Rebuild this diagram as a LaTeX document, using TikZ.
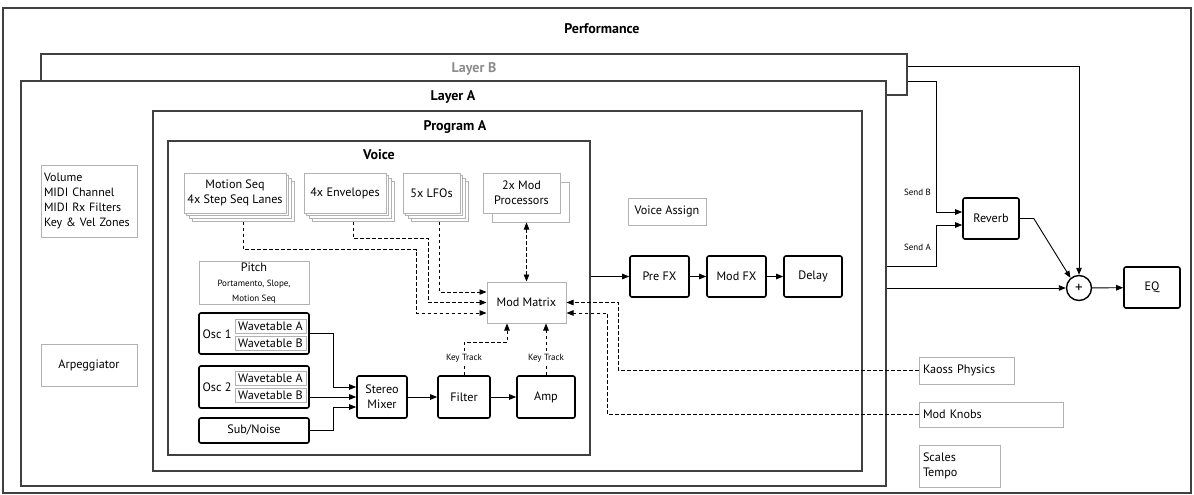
\documentclass[tikz,border=0pt]{standalone}
\usepackage{fontspec}
\setmainfont{PT Sans}
\usetikzlibrary{arrows.meta}
\tikzstyle{arrow} = [->,>={Triangle[length=7pt,width=5.5pt]}, line width=0.9pt]
\tikzstyle{dArrow} = [arrow, dash pattern=on 3.5pt off 2.5pt]
\tikzstyle{dBoth} = [dArrow, <->]
\tikzstyle{frameBox} = [draw=black!75, line width=1.1pt, fill=white, inner sep=0pt]
\tikzstyle{gLine} = [draw=black!30, line width=1pt, fill=white]
\tikzstyle{gBox} = [gLine, inner sep=2pt, align=center]
\tikzstyle{kBox} = [draw=black, line width=1.6pt, rounded corners=2pt, fill=white, inner sep=2pt, align=center]
\tikzstyle{title} = [font=\bfseries\fontsize{14}{16}\selectfont]
\tikzstyle{smallText} = [font=\fontsize{9}{10.5}\selectfont, inner sep=1pt]

\begin{document}
\begin{tikzpicture}[x=1pt, y=-1pt, font=\fontsize{12.2}{15}\selectfont]
        \useasboundingbox (0,0) rectangle (1194,495);

        \node[frameBox, minimum width=1188pt, minimum height=485pt] (perf) at (597,250.5) {};
        \node[title] (perfT) at (602,29) {Performance};
        \node[frameBox, minimum width=866pt, minimum height=41pt] (layerB) at (474,74.5) {};
        \node[title, text=black!45] (layerBT) at (474,69) {Layer B};
        \node[frameBox, minimum width=865pt, minimum height=405pt] (layerA) at (453.5,283.5) {};
        \node[title] (layerAT) at (453,97) {Layer A};
        \node[frameBox, minimum width=709pt, minimum height=360pt] (progA) at (507.5,291) {};
        \node[title] (progAT) at (455,127) {Program A};
        \node[frameBox, minimum width=422pt, minimum height=314pt] (voice) at (379,298) {};
        \node[title] (voiceT) at (379,155) {Voice};

        \node[gBox, minimum width=96pt, minimum height=72pt, inner xsep=3pt, text width=90pt, align=left, font=\fontsize{12}{15.3}\selectfont] (partSet) at (89,201) {Volume\\MIDI Channel\\MIDI Rx Filters\\Key \& Vel Zones};
        \node[gBox, minimum width=96pt, minimum height=42pt] (arp) at (89,365) {Arpeggiator};

        \foreach \d in {8.1,5.4,2.7} {
            \draw[gLine] (184+\d,173+\d) rectangle ++(102,40);
            \draw[gLine] (304+\d,173+\d) rectangle ++(82,40);
            \draw[gLine] (403+\d,173+\d) rectangle ++(57,40);
        }
        \draw[gLine] (492,182) rectangle ++(77,40);
        \node[gBox, minimum width=102pt, minimum height=40pt] (motion) at (235,193) {Motion Seq\\4x Step Seq Lanes};
        \node[gBox, minimum width=82pt, minimum height=40pt] (env) at (345,193) {4x Envelopes};
        \node[gBox, minimum width=57pt, minimum height=40pt] (lfo) at (431.5,193) {5x LFOs};
        \node[gBox, minimum width=77pt, minimum height=40pt] (modProc) at (521.5,193) {2x Mod\\Processors};

        \node[gBox, minimum width=110pt, minimum height=42pt, inner sep=1pt] (pitch) at (254,283) {Pitch\\{\fontsize{9}{10.5}\selectfont Portamento, Slope,}\\{\fontsize{9}{10.5}\selectfont Motion Seq}};
        \node[gBox, minimum width=79pt, minimum height=41pt] (mm) at (526.5,302.5) {Mod Matrix};
        \node[gBox, minimum width=78pt, minimum height=27pt] (vAssign) at (667,211.5) {Voice Assign};

        \node[kBox, minimum width=110pt, minimum height=41pt] (osc1) at (254,333.5) {};
        \node (osc1T) at (217,334) {Osc 1};
        \node[gBox, inner sep=0pt, minimum width=71pt, minimum height=14pt] (wt1a) at (270.5,326) {Wavetable A};
        \node[gBox, inner sep=0pt, minimum width=71pt, minimum height=14pt] (wt1b) at (270.5,343) {Wavetable B};
        \node[kBox, minimum width=110pt, minimum height=42pt] (osc2) at (254,387) {};
        \node (osc2T) at (217,387) {Osc 2};
        \node[gBox, inner sep=0pt, minimum width=71pt, minimum height=14pt] (wt2a) at (270.5,378.5) {Wavetable A};
        \node[gBox, inner sep=0pt, minimum width=71pt, minimum height=14pt] (wt2b) at (270.5,395) {Wavetable B};
        \node[kBox, minimum width=110pt, minimum height=25pt] (sub) at (254,430.5) {Sub/Noise};
        \node[kBox, minimum width=50pt, minimum height=42pt] (mix) at (382,397) {Stereo\\Mixer};
        \node[kBox, minimum width=52pt, minimum height=42pt] (filt) at (464,397) {Filter};
        \node[kBox, minimum width=58pt, minimum height=42pt] (amp) at (546,397) {Amp};

        \node[kBox, minimum width=59pt, minimum height=41pt] (preFx) at (659.5,276.5) {Pre FX};
        \node[kBox, minimum width=59pt, minimum height=41pt] (modFx) at (736.5,276.5) {Mod FX};
        \node[kBox, minimum width=58pt, minimum height=41pt] (delay) at (813,276.5) {Delay};
        \node[kBox, minimum width=56pt, minimum height=41pt] (reverb) at (991,218.5) {Reverb};
        \node[circle, draw, line width=1.4pt, fill=white, minimum size=25pt, inner sep=0pt, font=\fontsize{15}{15}\selectfont] (sum) at (1079,288) {+};
        \node[kBox, minimum width=56pt, minimum height=41pt] (eq) at (1152,287.5) {EQ};

        \node[gBox, minimum width=95pt, minimum height=27pt, text width=87pt, align=left] (kaoss) at (966.5,370.5) {Kaoss Physics};
        \node[gBox, minimum width=144pt, minimum height=25pt, text width=136pt, align=left] (knobs) at (991,414.5) {Mod Knobs};
        \node[gBox, minimum width=81pt, minimum height=42pt, text width=73pt, align=left] (scales) at (959.5,466) {Scales\\Tempo};

        \draw[arrow] (osc1.east) -- ++(24,0) |- ([yshift=10pt]mix.west);
        \draw[arrow] (osc2.east |- mix.west) -- (mix.west);
        \draw[arrow] (sub.east) -- ++(24,0) |- ([yshift=-10pt]mix.west);
        \draw[arrow] (mix) -- (filt);
        \draw[arrow] (filt) -- (amp);

        \draw[arrow] (voice.east |- preFx.west) -- (preFx.west);
        \draw[arrow] (preFx) -- (modFx);
        \draw[arrow] (modFx) -- (delay);

        \draw[arrow] ([yshift=-13pt]layerB.north east) -| (sum.north);
        \draw[arrow] ([yshift=-28pt]layerB.north east) -- ++(29,0) |- ([yshift=6.5pt]reverb.west);
        \draw[arrow] ([yshift=-186pt]layerA.north east) -- ++(50,0) |- ([yshift=-6.5pt]reverb.west);
        \draw[arrow] (layerA.east |- sum.west) -- (sum.west);
        \draw[arrow] (reverb.east) -- ++(14,0) -- (sum.130);
        \draw[arrow] (sum) -- (eq);
        \node[smallText, anchor=east] (sendB) at (932,192) {Send B};
        \node[smallText, anchor=east] (sendA) at (932,247) {Send A};

        \draw[dArrow] ([xshift=8.1pt,yshift=-8.1pt]motion.south) -- ++(0,28) -| ([xshift=-70pt,yshift=-10.5pt]mm.west) -- ([yshift=-10.5pt]mm.west);
        \draw[dArrow] ([xshift=8.1pt,yshift=-8.1pt]env.south) -- ++(0,17) -| ([xshift=-58pt]mm.west) -- (mm.west);
        \draw[dArrow] ([xshift=8.1pt,yshift=-8.1pt]lfo.south) |- ([yshift=10.5pt]mm.west);
        \coordinate (mpBot) at ([xshift=9pt,yshift=-9pt]modProc.south);
        \draw[dBoth] (mpBot -| mm.north) -- (mm.north);
        \draw[dArrow] (filt.north) -- ++(0,-33) -| ([xshift=-19.5pt]mm.south);
        \draw[dArrow] (amp.north) -- (amp.north |- mm.south);
        \node[smallText, fill=white] (ktFilt) at (464,358) {Key Track};
        \node[smallText, fill=white] (ktAmp) at (546,358) {Key Track};
        \draw[dArrow] (kaoss.west) -| ([xshift=52pt]mm.east) -- (mm.east);
        \draw[dArrow] (knobs.west) -| ([xshift=41pt,yshift=-10.5pt]mm.east) -- ([yshift=-10.5pt]mm.east);
\end{tikzpicture}
\end{document}
